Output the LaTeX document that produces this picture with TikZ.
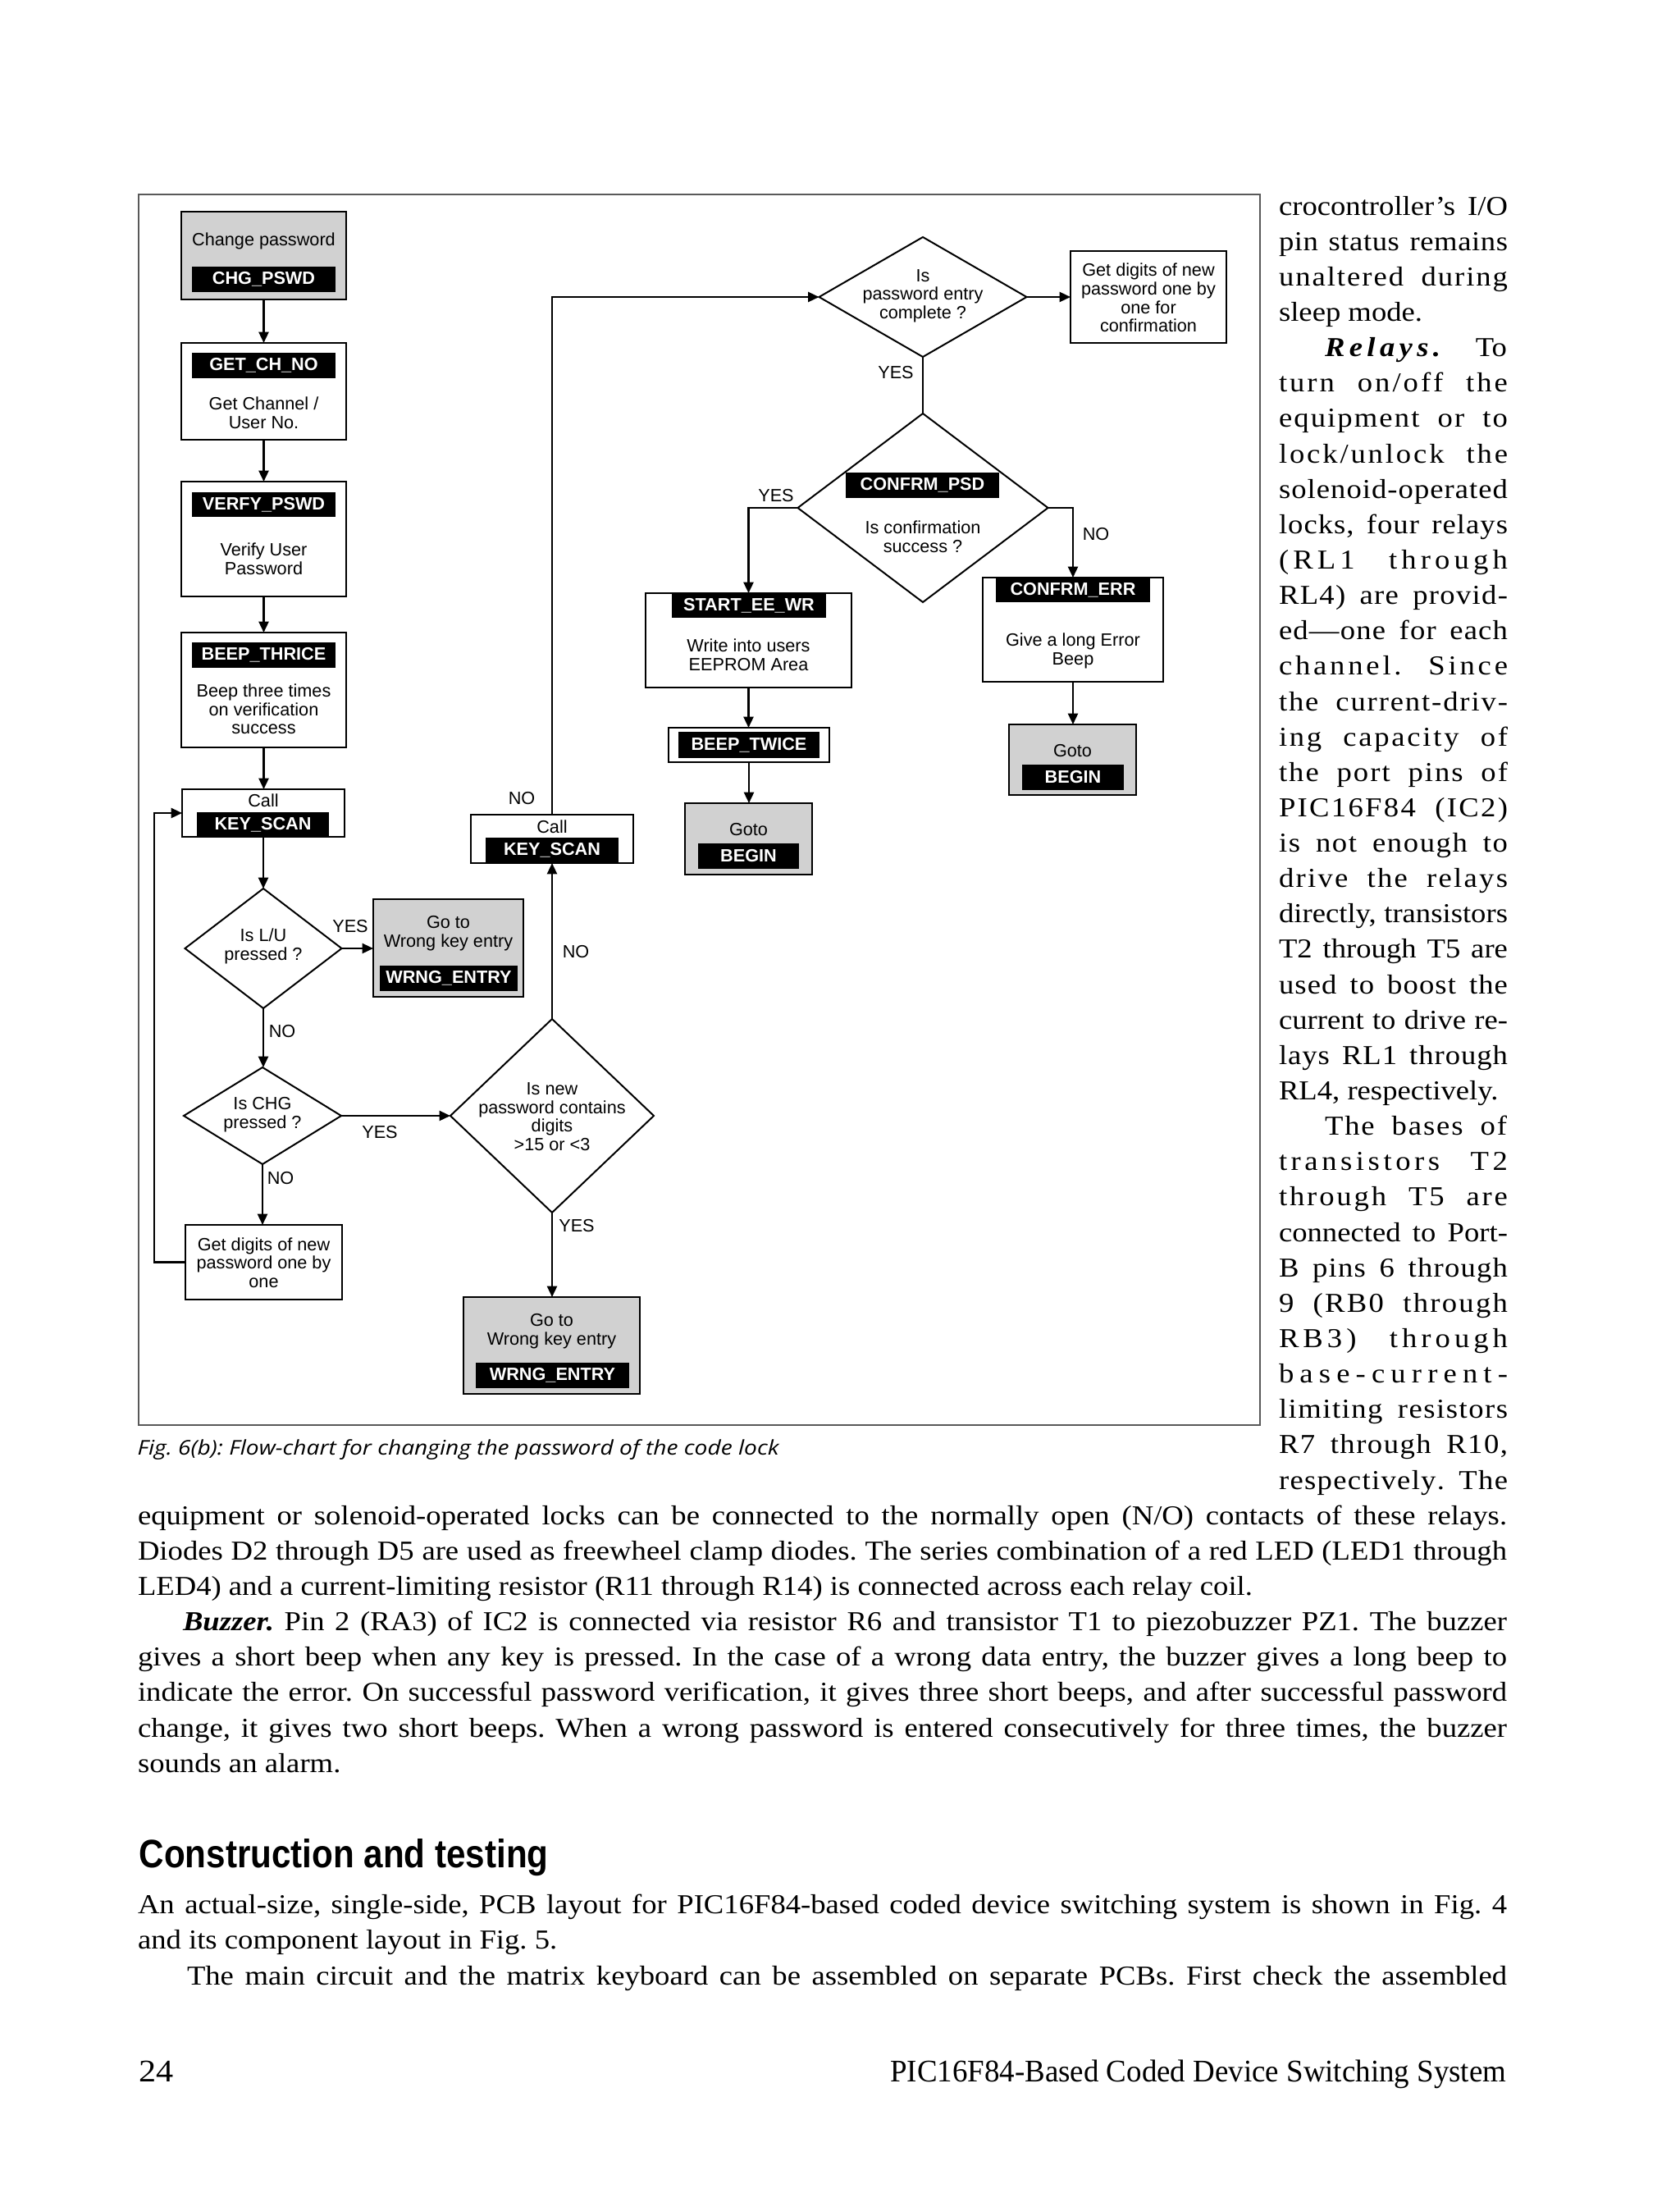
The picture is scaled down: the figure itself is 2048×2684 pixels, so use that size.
\documentclass[tikz,border=0pt]{standalone}
\usepackage{fontspec}
\setmainfont{Liberation Serif}[FakeStretch=1.1]
\newfontfamily\fcs{Liberation Sans}
\newfontfamily\capf{Open Sans}
\usetikzlibrary{arrows.meta,shapes.geometric}
\newdimen\px \px=0.3pt
\def\lsgob#1{}
\def\lsA#1#2{#1\ifx\relax#2\expandafter\lsgob\else\hskip0pt plus .22pt\relax\expandafter\lsA\fi#2}
\def\ls#1{\lsA#1\relax}
\frenchspacing
\tikzset{
 box/.style={draw, line width=0.6pt, inner sep=0pt, outer sep=0pt},
 gbox/.style={box, fill=black!18},
 bar/.style={fill=black, text=white, font=\fcs\bfseries\fontsize{6.5}{6.8}\selectfont, inner sep=0pt, outer sep=0pt},
 ftxt/.style={font=\fcs\fontsize{6.5}{6.8}\selectfont, align=center, inner sep=0pt},
 dia/.style={draw, diamond, line width=0.6pt, inner sep=0pt, outer sep=0pt},
 lbl/.style={font=\fcs\fontsize{6.5}{7}\selectfont, inner sep=0pt},
 conn/.style={line width=0.7pt, -{Triangle[length=4pt,width=3.6pt]}},
 cline/.style={line width=0.7pt},
 bt/.style={anchor=base west, inner sep=0pt, outer sep=0pt, font=\fontsize{10}{12}\selectfont},
}
\begin{document}
\frenchspacing
\begin{tikzpicture}[x=0.3pt,y=-0.3pt]
\useasboundingbox[fill=white] (0,0) rectangle (2048,2684);
% frame
\draw[black!65, line width=0.45pt] (169,237) rectangle (1536,1737);

% ---- left column ----
\node[gbox, minimum width=201\px, minimum height=107\px] (chg) at (321.5,311.5) {};
\node[ftxt] (chgt) at (321.5,294) {Change password};
\node[bar, minimum width=175\px, minimum height=31\px] (chgb) at (321.5,340.5) {CHG\_PSWD};

\node[box, minimum width=201\px, minimum height=118\px] (getch) at (321.5,477) {};
\node[bar, minimum width=175\px, minimum height=31\px] (getchb) at (321.5,445.5) {GET\_CH\_NO};
\node[ftxt] (getcht) at (321.5,503) {Get Channel /\\User No.};

\node[box, minimum width=201\px, minimum height=140\px] (verfy) at (321.5,657) {};
\node[bar, minimum width=175\px, minimum height=30\px] (verfyb) at (321.5,615) {VERFY\_PSWD};
\node[ftxt] (verfyt) at (321.5,681) {Verify User\\Password};

\node[box, minimum width=201\px, minimum height=140\px] (beep3) at (321.5,841) {};
\node[bar, minimum width=175\px, minimum height=31\px] (beep3b) at (321.5,798.5) {BEEP\_THRICE};
\node[ftxt] (beep3t) at (321.5,864.5) {Beep three times\\on verification\\success};

\node[box, minimum width=198\px, minimum height=58\px] (ks1) at (321,991) {};
\node[ftxt] (ks1t) at (321,976) {Call};
\node[bar, minimum width=161\px, minimum height=30\px] (ks1b) at (320.5,1005) {KEY\_SCAN};

\node[dia, minimum width=191\px, minimum height=146\px] (dLU) at (321,1156) {};
\node[ftxt] (dLUt) at (321,1153.5) {Is L/U\\pressed ?};

\node[gbox, minimum width=183\px, minimum height=119\px] (wrng1) at (546.5,1155.5) {};
\node[ftxt] (wrng1t) at (546.5,1138) {Go to\\Wrong key entry};
\node[bar, minimum width=168\px, minimum height=31\px] (wrng1b) at (547,1192.5) {WRNG\_ENTRY};

\node[dia, minimum width=192\px, minimum height=118\px] (dCHG) at (320,1360) {};
\node[ftxt] (dCHGt) at (320,1358.5) {Is CHG\\pressed ?};

\node[box, minimum width=191\px, minimum height=91\px] (gdig) at (321.5,1538.5) {};
\node[ftxt] (gdigt) at (321.5,1539) {Get digits of new\\password one by\\one};

% ---- middle column ----
\node[dia, minimum width=248\px, minimum height=236\px] (dNEW) at (673,1360) {};
\node[ftxt] (dNEWt) at (673,1361) {Is new\\password contains\\digits\\>15 or <3};

\node[gbox, minimum width=215\px, minimum height=118\px] (wrng2) at (672.5,1640) {};
\node[ftxt] (wrng2t) at (672.5,1622.5) {Go to\\Wrong key entry};
\node[bar, minimum width=187\px, minimum height=31\px] (wrng2b) at (673.5,1676.5) {WRNG\_ENTRY};

\node[box, minimum width=198\px, minimum height=59\px] (ks2) at (673,1022.5) {};
\node[ftxt] (ks2t) at (673,1008) {Call};
\node[bar, minimum width=162\px, minimum height=31\px] (ks2b) at (673,1036.5) {KEY\_SCAN};

% ---- right part ----
\node[dia, minimum width=253\px, minimum height=146\px] (dPC) at (1125,362) {};
\node[ftxt] (dPCt) at (1125,360.6) {Is\\password entry\\complete ?};

\node[box, minimum width=190\px, minimum height=112\px] (conf) at (1400,362) {};
\node[ftxt] (conft) at (1400,363) {Get digits of new\\password one by\\one for\\confirmation};

\node[dia, minimum width=305\px, minimum height=230\px] (dCP) at (1125,619) {};
\node[bar, minimum width=187\px, minimum height=31\px] (dCPb) at (1124.5,591.5) {CONFRM\_PSD};
\node[ftxt] (dCPt) at (1125,654) {Is confirmation\\success ?};

\node[box, minimum width=251\px, minimum height=115\px] (eewr) at (912.5,780.5) {};
\node[bar, minimum width=188\px, minimum height=29\px] (eewrb) at (913,738.5) {START\_EE\_WR};
\node[ftxt] (eewrt) at (912.5,798.5) {Write into users\\EEPROM Area};

\node[box, minimum width=220\px, minimum height=127\px] (cerr) at (1308,767.5) {};
\node[bar, minimum width=188\px, minimum height=30\px] (cerrb) at (1308,719) {CONFRM\_ERR};
\node[ftxt] (cerrt) at (1308,793.5) {Give a long Error\\Beep};

\node[gbox, minimum width=155\px, minimum height=86\px] (beginR) at (1307.5,926) {};
\node[ftxt] (beginRt) at (1307.5,915) {Goto};
\node[bar, minimum width=124\px, minimum height=31\px] (beginRb) at (1308,947.5) {BEGIN};

\node[box, minimum width=196\px, minimum height=42\px] (bt2) at (913,908) {};
\node[bar, minimum width=172\px, minimum height=32\px] (bt2b) at (913,908) {BEEP\_TWICE};

\node[gbox, minimum width=155\px, minimum height=87\px] (beginL) at (912.5,1022.5) {};
\node[ftxt] (beginLt) at (912.5,1011) {Goto};
\node[bar, minimum width=123\px, minimum height=31\px] (beginLb) at (912.5,1043.5) {BEGIN};

% ---- connectors ----
\coordinate (loopx) at (188,1538.5);
\draw[conn] (chg.south) -- (getch.north);
\draw[conn] (getch.south) -- (verfy.north);
\draw[conn] (verfy.south) -- (beep3.north);
\draw[conn] (beep3.south) -- (beep3.south |- ks1.north);
\draw[conn] (ks1.south) -- (ks1.south |- dLU.north);
\draw[conn] (dLU.east) -- (wrng1.west |- dLU.east);
\draw[conn] (dLU.south) -- (dLU.south |- dCHG.north);
\draw[conn] (dCHG.east) -- (dNEW.west);
\draw[conn] (dCHG.south) -- (dCHG.south |- gdig.north);
\draw[conn] (gdig.west) -- (loopx) |- (ks1.west);
\draw[conn] (dNEW.south) -- (dNEW.south |- wrng2.north);
\draw[conn] (dNEW.north) -- (dNEW.north |- ks2.south);
\draw[conn] (ks2.north) |- (dPC.west);
\draw[conn] (dPC.east) -- (conf.west);
\draw[cline] (dPC.south) -- (dCP.north);
\draw[conn] (dCP.west) -| (eewr.north);
\draw[conn] (dCP.east) -| (cerr.north);
\draw[conn] (eewr.south) -- (eewr.south |- bt2.north);
\draw[conn] (bt2.south) -- (bt2.south |- beginL.north);
\draw[conn] (cerr.south) -- (cerr.south |- beginR.north);

% ---- labels ----
\node[lbl] (l1) at (427,1129) {YES};
\node[lbl] (l2) at (344,1257) {NO};
\node[lbl] (l3) at (463,1380) {YES};
\node[lbl] (l4) at (342,1436) {NO};
\node[lbl] (l5) at (703,1494) {YES};
\node[lbl] (l6) at (702,1160) {NO};
\node[lbl] (l7) at (636,973) {NO};
\node[lbl] (l8) at (1092,454) {YES};
\node[lbl] (l9) at (946,604) {YES};
\node[lbl] (l10) at (1336,651) {NO};

% ---- caption ----
\node[anchor=base west, inner sep=0pt] (cap) at (167,1773) {\resizebox{782\px}{\height}{\capf\itshape\fontsize{7.4}{9}\selectfont Fig. 6(b): Flow-chart for changing the password of the code lock}};

% ---- right column text ----
\node[bt] (t1) at (1559,262.0) {\makebox[279\px][s]{crocontroller’s I/O}};
\node[bt] (t2) at (1559,305.1) {\makebox[279\px][s]{\ls{pin} \ls{status} \ls{remains}}};
\node[bt] (t3) at (1559,348.3) {\makebox[279\px][s]{\ls{unaltered} \ls{during}}};
\node[bt] (t4) at (1559,391.4) {sleep mode.};
\node[bt] (t5) at (1615,434.6) {\makebox[222\px][s]{\textbf{\textit{\ls{Relays.}}} To}};
\node[bt] (t6) at (1559,477.7) {\makebox[279\px][s]{\ls{turn} \ls{on/off} \ls{the}}};
\node[bt] (t7) at (1559,520.8) {\makebox[279\px][s]{\ls{equipment} \ls{or} \ls{to}}};
\node[bt] (t8) at (1559,564.0) {\makebox[279\px][s]{\ls{lock/unlock} \ls{the}}};
\node[bt] (t9) at (1559,607.1) {\makebox[279\px][s]{\ls{solenoid-operated}}};
\node[bt] (t10) at (1559,650.3) {\makebox[279\px][s]{\ls{locks,} \ls{four} \ls{relays}}};
\node[bt] (t11) at (1559,693.4) {\makebox[279\px][s]{\ls{(RL1} \ls{through}}};
\node[bt] (t12) at (1559,736.5) {\makebox[279\px][s]{\ls{RL4)} \ls{are} \ls{provid-}}};
\node[bt] (t13) at (1559,779.7) {\makebox[279\px][s]{\ls{ed—one} \ls{for} \ls{each}}};
\node[bt] (t14) at (1559,822.8) {\makebox[279\px][s]{\ls{channel.} \ls{Since}}};
\node[bt] (t15) at (1559,866.0) {\makebox[279\px][s]{\ls{the} \ls{current-driv-}}};
\node[bt] (t16) at (1559,909.1) {\makebox[279\px][s]{\ls{ing} \ls{capacity} \ls{of}}};
\node[bt] (t17) at (1559,952.2) {\makebox[279\px][s]{\ls{the} \ls{port} \ls{pins} \ls{of}}};
\node[bt] (t18) at (1559,995.4) {\makebox[279\px][s]{\ls{PIC16F84} \ls{(IC2)}}};
\node[bt] (t19) at (1559,1038.5) {\makebox[279\px][s]{\ls{is} \ls{not} \ls{enough} \ls{to}}};
\node[bt] (t20) at (1559,1081.7) {\makebox[279\px][s]{\ls{drive} \ls{the} \ls{relays}}};
\node[bt] (t21) at (1559,1124.8) {\makebox[279\px][s]{directly, transistors}};
\node[bt] (t22) at (1559,1167.9) {\makebox[279\px][s]{T2 through T5 are}};
\node[bt] (t23) at (1559,1211.1) {\makebox[279\px][s]{\ls{used} \ls{to} \ls{boost} \ls{the}}};
\node[bt] (t24) at (1559,1254.2) {\makebox[279\px][s]{current to drive re-}};
\node[bt] (t25) at (1559,1297.4) {\makebox[279\px][s]{\ls{lays} \ls{RL1} \ls{through}}};
\node[bt] (t26) at (1559,1340.5) {RL4, respectively.};
\node[bt] (t27) at (1615,1383.6) {\makebox[222\px][s]{\ls{The} \ls{bases} \ls{of}}};
\node[bt] (t28) at (1559,1426.8) {\makebox[279\px][s]{\ls{transistors} \ls{T2}}};
\node[bt] (t29) at (1559,1469.9) {\makebox[279\px][s]{\ls{through} \ls{T5} \ls{are}}};
\node[bt] (t30) at (1559,1513.1) {\makebox[279\px][s]{connected to Port-}};
\node[bt] (t31) at (1559,1556.2) {\makebox[279\px][s]{\ls{B} \ls{pins} \ls{6} \ls{through}}};
\node[bt] (t32) at (1559,1599.3) {\makebox[279\px][s]{\ls{9} \ls{(RB0} \ls{through}}};
\node[bt] (t33) at (1559,1642.5) {\makebox[279\px][s]{\ls{RB3)} \ls{through}}};
\node[bt] (t34) at (1559,1685.6) {\makebox[279\px][s]{\ls{base-current-}}};
\node[bt] (t35) at (1559,1728.8) {\makebox[279\px][s]{\ls{limiting} \ls{resistors}}};
\node[bt] (t36) at (1559,1771.9) {\makebox[279\px][s]{\ls{R7} \ls{through} \ls{R10,}}};
\node[bt] (t37) at (1559,1815.0) {\makebox[279\px][s]{\ls{respectively.} \ls{The}}};

% ---- full width text ----
\node[bt] (t38) at (168,1858.2) {\makebox[1669\px][s]{equipment or solenoid-operated locks can be connected to the normally open (N/O) contacts of these relays.}};
\node[bt] (t39) at (168,1901.3) {\makebox[1669\px][s]{Diodes D2 through D5 are used as freewheel clamp diodes. The series combination of a red LED (LED1 through}};
\node[bt] (t40) at (168,1944.5) {LED4) and a current-limiting resistor (R11 through R14) is connected across each relay coil.};
\node[bt] (t41) at (223,1987.6) {\makebox[1614\px][s]{\textbf{\textit{Buzzer.}} Pin 2 (RA3) of IC2 is connected via resistor R6 and transistor T1 to piezobuzzer PZ1. The buzzer}};
\node[bt] (t42) at (168,2030.7) {\makebox[1669\px][s]{gives a short beep when any key is pressed. In the case of a wrong data entry, the buzzer gives a long beep to}};
\node[bt] (t43) at (168,2073.9) {\makebox[1669\px][s]{indicate the error. On successful password verification, it gives three short beeps, and after successful password}};
\node[bt] (t44) at (168,2117.0) {\makebox[1669\px][s]{change, it gives two short beeps. When a wrong password is entered consecutively for three times, the buzzer}};
\node[bt] (t45) at (168,2160.2) {sounds an alarm.};

\node[anchor=base west, inner sep=0pt] (head) at (169,2276) {\resizebox{499\px}{\height}{\fcs\bfseries\fontsize{14.5}{16}\selectfont Construction and testing}};

\node[bt] (t49) at (168,2332.7) {\makebox[1669\px][s]{An actual-size, single-side, PCB layout for PIC16F84-based coded device switching system is shown in Fig. 4}};
\node[bt] (t50) at (168,2375.8) {and its component layout in Fig. 5.};
\node[bt] (t51) at (228,2419.0) {\makebox[1609\px][s]{The main circuit and the matrix keyboard can be assembled on separate PCBs. First check the assembled}};

% ---- footer ----
\node[anchor=base west, inner sep=0pt, font=\fontsize{11.5}{13}\selectfont] (pg) at (169,2537) {24};
\node[anchor=base east, inner sep=0pt] (run) at (1837,2537) {\resizebox{751\px}{\height}{\fontsize{11.5}{13}\selectfont PIC16F84-Based Coded Device Switching System}};
\end{tikzpicture}
\end{document}
